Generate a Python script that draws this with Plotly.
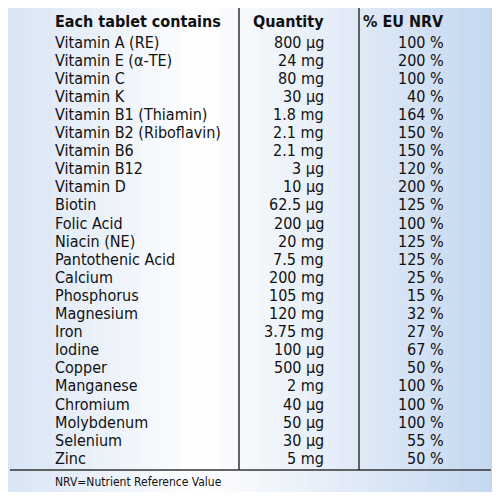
import plotly.graph_objects as go

# table contents
headers = ["Each tablet contains", "Quantity", "% EU NRV"]
nutrients = ["Vitamin A (RE)", "Vitamin E (α-TE)", "Vitamin C", "Vitamin K", "Vitamin B1 (Thiamin)",
             "Vitamin B2 (Riboflavin)", "Vitamin B6", "Vitamin B12", "Vitamin D", "Biotin", "Folic Acid",
             "Niacin (NE)", "Pantothenic Acid", "Calcium", "Phosphorus", "Magnesium", "Iron", "Iodine",
             "Copper", "Manganese", "Chromium", "Molybdenum", "Selenium", "Zinc"]
quantity = ["800 μg", "24 mg", "80 mg", "30 μg", "1.8 mg", "2.1 mg", "2.1 mg", "3 μg", "10 μg", "62.5 μg",
            "200 μg", "20 mg", "7.5 mg", "200 mg", "105 mg", "120 mg", "3.75 mg", "100 μg", "500 μg",
            "2 mg", "40 μg", "50 μg", "30 μg", "5 mg"]
nrv = ["100 %", "200 %", "100 %", "40 %", "164 %", "150 %", "150 %", "120 %", "200 %", "125 %", "100 %",
       "125 %", "125 %", "25 %", "15 %", "32 %", "27 %", "67 %", "50 %", "100 %", "100 %", "100 %",
       "55 %", "50 %"]
footnote = "NRV=Nutrient Reference Value"

FONT = "DejaVu Sans Condensed, Liberation Sans Narrow, sans-serif"
fig = go.Figure()
shapes = []

# background gradient: pale blue at the edges, white in the middle
n = 50
for i in range(n):
    t = abs((i + 0.5) / n - 0.4) / 0.6
    t = min(t, 1)
    r = int(255 - 60 * t); g = int(255 - 40 * t); b = int(255 - 15 * t)
    shapes.append(dict(type="rect", x0=2 + 496 * i / n, x1=2 + 496 * (i + 1) / n + 0.5, y0=2, y1=497,
                       fillcolor=f"rgb({r},{g},{b})", line=dict(width=0), layer="below"))
shapes.append(dict(type="rect", x0=2, x1=498, y0=2, y1=497, line=dict(color="#222", width=1.5)))
shapes.append(dict(type="line", x0=10, x1=491, y0=470, y1=470, line=dict(color="#333", width=1.5)))
for xv in (239, 359):
    shapes.append(dict(type="line", x0=xv, x1=xv, y0=8, y1=470, line=dict(color="#333", width=1.5)))

ann = []
def txt(x, y, s, anchor, bold=False):
    ann.append(dict(x=x, y=y, text=f"<b>{s}</b>" if bold else s, showarrow=False, xanchor=anchor,
                    yanchor="middle", font=dict(family=FONT, size=16, color="#111")))

txt(53, 21, headers[0], "left", True)
txt(326, 21, headers[1], "right", True)
txt(446, 21, headers[2], "right", True)
for i, (a, q, p) in enumerate(zip(nutrients, quantity, nrv)):
    y = 42 + i * 18.1
    txt(53, y, a, "left")
    txt(326, y, q, "right")
    txt(446, y, p, "right")
ann.append(dict(x=53, y=482, text=footnote, showarrow=False, xanchor="left", yanchor="middle",
                font=dict(family=FONT, size=12, color="#111")))

# page has an 8px body margin, so the figure is 484px and the ranges skip that margin
fig.update_layout(width=484, height=484, margin=dict(l=0, r=0, t=0, b=0),
                  paper_bgcolor="white", plot_bgcolor="white", shapes=shapes, annotations=ann,
                  xaxis=dict(range=[8, 492], visible=False, fixedrange=True),
                  yaxis=dict(range=[492, 8], visible=False, fixedrange=True))
fig.write_html("out.html")
